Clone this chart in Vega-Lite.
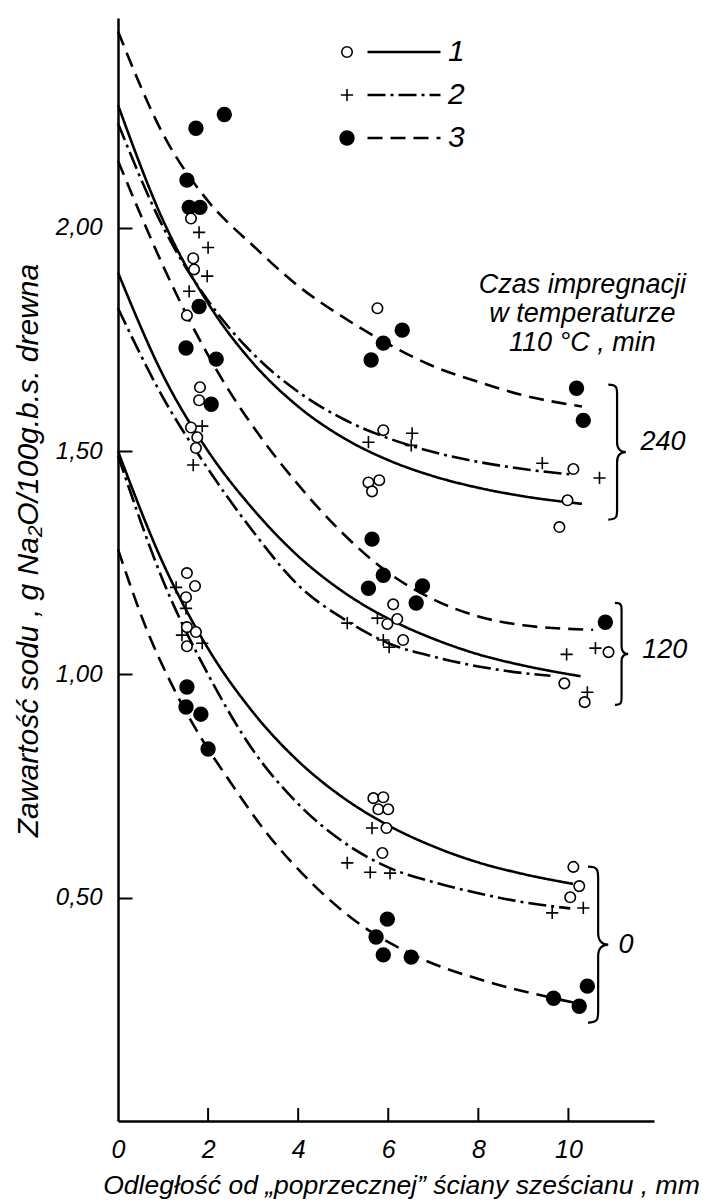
{
  "$schema": "https://vega.github.io/schema/vega-lite/v6.json",
  "width": 536,
  "height": 1103,
  "autosize": {"type": "none"},
  "padding": {"left": 118, "top": 18, "right": 49, "bottom": 83},
  "background": "white",
  "config": {"view": {"stroke": null}, "font": "Liberation Sans"},
  "datasets": {
    "krzywe": [
      {"grupa": "240", "krzywa": "3", "x": 0, "y": 2.44},
      {"grupa": "240", "krzywa": "3", "x": 1, "y": 2.21},
      {"grupa": "240", "krzywa": "3", "x": 2, "y": 2.06},
      {"grupa": "240", "krzywa": "3", "x": 3, "y": 1.96},
      {"grupa": "240", "krzywa": "3", "x": 4, "y": 1.87},
      {"grupa": "240", "krzywa": "3", "x": 5, "y": 1.8},
      {"grupa": "240", "krzywa": "3", "x": 6, "y": 1.74},
      {"grupa": "240", "krzywa": "3", "x": 7, "y": 1.69},
      {"grupa": "240", "krzywa": "3", "x": 8, "y": 1.655},
      {"grupa": "240", "krzywa": "3", "x": 9, "y": 1.625},
      {"grupa": "240", "krzywa": "3", "x": 10.3, "y": 1.6},
      {"grupa": "240", "krzywa": "1", "x": 0, "y": 2.275},
      {"grupa": "240", "krzywa": "1", "x": 1, "y": 2.017},
      {"grupa": "240", "krzywa": "1", "x": 2, "y": 1.831},
      {"grupa": "240", "krzywa": "1", "x": 3, "y": 1.697},
      {"grupa": "240", "krzywa": "1", "x": 4, "y": 1.6},
      {"grupa": "240", "krzywa": "1", "x": 5, "y": 1.53},
      {"grupa": "240", "krzywa": "1", "x": 6, "y": 1.48},
      {"grupa": "240", "krzywa": "1", "x": 7, "y": 1.444},
      {"grupa": "240", "krzywa": "1", "x": 8, "y": 1.418},
      {"grupa": "240", "krzywa": "1", "x": 9, "y": 1.399},
      {"grupa": "240", "krzywa": "1", "x": 10.3, "y": 1.382},
      {"grupa": "240", "krzywa": "2", "x": 0, "y": 2.234},
      {"grupa": "240", "krzywa": "2", "x": 1, "y": 2.002},
      {"grupa": "240", "krzywa": "2", "x": 2, "y": 1.837},
      {"grupa": "240", "krzywa": "2", "x": 3, "y": 1.718},
      {"grupa": "240", "krzywa": "2", "x": 4, "y": 1.633},
      {"grupa": "240", "krzywa": "2", "x": 5, "y": 1.572},
      {"grupa": "240", "krzywa": "2", "x": 6, "y": 1.529},
      {"grupa": "240", "krzywa": "2", "x": 7, "y": 1.498},
      {"grupa": "240", "krzywa": "2", "x": 8, "y": 1.476},
      {"grupa": "240", "krzywa": "2", "x": 9, "y": 1.46},
      {"grupa": "240", "krzywa": "2", "x": 10.05, "y": 1.448},
      {"grupa": "120", "krzywa": "3", "x": 0, "y": 2.15},
      {"grupa": "120", "krzywa": "3", "x": 0.5, "y": 2.03},
      {"grupa": "120", "krzywa": "3", "x": 1, "y": 1.915},
      {"grupa": "120", "krzywa": "3", "x": 1.5, "y": 1.81},
      {"grupa": "120", "krzywa": "3", "x": 2, "y": 1.715},
      {"grupa": "120", "krzywa": "3", "x": 2.5, "y": 1.63},
      {"grupa": "120", "krzywa": "3", "x": 3, "y": 1.555},
      {"grupa": "120", "krzywa": "3", "x": 4, "y": 1.425},
      {"grupa": "120", "krzywa": "3", "x": 5, "y": 1.315},
      {"grupa": "120", "krzywa": "3", "x": 6, "y": 1.228},
      {"grupa": "120", "krzywa": "3", "x": 7, "y": 1.168},
      {"grupa": "120", "krzywa": "3", "x": 8, "y": 1.13},
      {"grupa": "120", "krzywa": "3", "x": 9, "y": 1.11},
      {"grupa": "120", "krzywa": "3", "x": 10.55, "y": 1.1},
      {"grupa": "120", "krzywa": "1", "x": 0, "y": 1.9},
      {"grupa": "120", "krzywa": "1", "x": 1, "y": 1.67},
      {"grupa": "120", "krzywa": "1", "x": 2, "y": 1.5},
      {"grupa": "120", "krzywa": "1", "x": 3, "y": 1.37},
      {"grupa": "120", "krzywa": "1", "x": 4, "y": 1.265},
      {"grupa": "120", "krzywa": "1", "x": 5, "y": 1.185},
      {"grupa": "120", "krzywa": "1", "x": 6, "y": 1.125},
      {"grupa": "120", "krzywa": "1", "x": 7, "y": 1.08},
      {"grupa": "120", "krzywa": "1", "x": 8, "y": 1.045},
      {"grupa": "120", "krzywa": "1", "x": 9, "y": 1.02},
      {"grupa": "120", "krzywa": "1", "x": 10.27, "y": 0.996},
      {"grupa": "120", "krzywa": "2", "x": 0, "y": 1.82},
      {"grupa": "120", "krzywa": "2", "x": 1, "y": 1.62},
      {"grupa": "120", "krzywa": "2", "x": 2, "y": 1.46},
      {"grupa": "120", "krzywa": "2", "x": 3, "y": 1.32},
      {"grupa": "120", "krzywa": "2", "x": 4, "y": 1.2},
      {"grupa": "120", "krzywa": "2", "x": 5, "y": 1.125},
      {"grupa": "120", "krzywa": "2", "x": 6, "y": 1.07},
      {"grupa": "120", "krzywa": "2", "x": 7, "y": 1.04},
      {"grupa": "120", "krzywa": "2", "x": 8, "y": 1.018},
      {"grupa": "120", "krzywa": "2", "x": 9, "y": 1.003},
      {"grupa": "120", "krzywa": "2", "x": 9.6, "y": 0.997},
      {"grupa": "0", "krzywa": "1", "x": 0, "y": 1.5},
      {"grupa": "0", "krzywa": "1", "x": 1, "y": 1.249},
      {"grupa": "0", "krzywa": "1", "x": 2, "y": 1.058},
      {"grupa": "0", "krzywa": "1", "x": 3, "y": 0.915},
      {"grupa": "0", "krzywa": "1", "x": 4, "y": 0.806},
      {"grupa": "0", "krzywa": "1", "x": 5, "y": 0.724},
      {"grupa": "0", "krzywa": "1", "x": 6, "y": 0.662},
      {"grupa": "0", "krzywa": "1", "x": 7, "y": 0.615},
      {"grupa": "0", "krzywa": "1", "x": 8, "y": 0.579},
      {"grupa": "0", "krzywa": "1", "x": 9, "y": 0.553},
      {"grupa": "0", "krzywa": "1", "x": 10.1, "y": 0.531},
      {"grupa": "0", "krzywa": "2", "x": 0, "y": 1.49},
      {"grupa": "0", "krzywa": "2", "x": 1, "y": 1.21},
      {"grupa": "0", "krzywa": "2", "x": 2, "y": 1.0},
      {"grupa": "0", "krzywa": "2", "x": 3, "y": 0.83},
      {"grupa": "0", "krzywa": "2", "x": 4, "y": 0.71},
      {"grupa": "0", "krzywa": "2", "x": 5, "y": 0.625},
      {"grupa": "0", "krzywa": "2", "x": 6, "y": 0.568},
      {"grupa": "0", "krzywa": "2", "x": 7, "y": 0.535},
      {"grupa": "0", "krzywa": "2", "x": 8, "y": 0.51},
      {"grupa": "0", "krzywa": "2", "x": 9, "y": 0.49},
      {"grupa": "0", "krzywa": "2", "x": 10.04, "y": 0.476},
      {"grupa": "0", "krzywa": "3", "x": 0, "y": 1.28},
      {"grupa": "0", "krzywa": "3", "x": 0.64, "y": 1.1},
      {"grupa": "0", "krzywa": "3", "x": 1.22, "y": 0.972},
      {"grupa": "0", "krzywa": "3", "x": 1.82, "y": 0.862},
      {"grupa": "0", "krzywa": "3", "x": 2.42, "y": 0.77},
      {"grupa": "0", "krzywa": "3", "x": 3.3, "y": 0.645},
      {"grupa": "0", "krzywa": "3", "x": 4.33, "y": 0.53},
      {"grupa": "0", "krzywa": "3", "x": 5.38, "y": 0.44},
      {"grupa": "0", "krzywa": "3", "x": 6.49, "y": 0.375},
      {"grupa": "0", "krzywa": "3", "x": 8.27, "y": 0.31},
      {"grupa": "0", "krzywa": "3", "x": 9.67, "y": 0.275},
      {"grupa": "0", "krzywa": "3", "x": 10.27, "y": 0.262}
    ],
    "punkty": [
      {"typ": "3", "x": 1.73, "y": 2.223}, {"typ": "3", "x": 2.36, "y": 2.254},
      {"typ": "3", "x": 1.53, "y": 2.107}, {"typ": "3", "x": 1.58, "y": 2.046},
      {"typ": "3", "x": 1.82, "y": 2.046}, {"typ": "3", "x": 1.8, "y": 1.824},
      {"typ": "3", "x": 1.51, "y": 1.731}, {"typ": "3", "x": 2.18, "y": 1.706},
      {"typ": "3", "x": 2.07, "y": 1.605},
      {"typ": "3", "x": 5.62, "y": 1.704}, {"typ": "3", "x": 5.89, "y": 1.742},
      {"typ": "3", "x": 6.31, "y": 1.771}, {"typ": "3", "x": 10.18, "y": 1.641},
      {"typ": "3", "x": 10.33, "y": 1.569},
      {"typ": "3", "x": 5.64, "y": 1.303}, {"typ": "3", "x": 5.89, "y": 1.222},
      {"typ": "3", "x": 5.56, "y": 1.193}, {"typ": "3", "x": 6.76, "y": 1.198},
      {"typ": "3", "x": 6.62, "y": 1.16}, {"typ": "3", "x": 10.82, "y": 1.117},
      {"typ": "3", "x": 1.53, "y": 0.972}, {"typ": "3", "x": 1.51, "y": 0.927},
      {"typ": "3", "x": 1.84, "y": 0.911}, {"typ": "3", "x": 2.0, "y": 0.833},
      {"typ": "3", "x": 5.98, "y": 0.452}, {"typ": "3", "x": 5.73, "y": 0.412},
      {"typ": "3", "x": 5.89, "y": 0.372}, {"typ": "3", "x": 6.51, "y": 0.367},
      {"typ": "3", "x": 10.42, "y": 0.302}, {"typ": "3", "x": 9.67, "y": 0.275},
      {"typ": "3", "x": 10.24, "y": 0.257},
      {"typ": "1", "x": 1.62, "y": 2.021}, {"typ": "1", "x": 1.67, "y": 1.932},
      {"typ": "1", "x": 1.69, "y": 1.907}, {"typ": "1", "x": 1.53, "y": 1.804},
      {"typ": "1", "x": 1.82, "y": 1.643}, {"typ": "1", "x": 1.8, "y": 1.614},
      {"typ": "1", "x": 1.62, "y": 1.553}, {"typ": "1", "x": 1.76, "y": 1.531},
      {"typ": "1", "x": 1.73, "y": 1.507},
      {"typ": "1", "x": 5.76, "y": 1.82}, {"typ": "1", "x": 5.89, "y": 1.547},
      {"typ": "1", "x": 5.56, "y": 1.43}, {"typ": "1", "x": 5.8, "y": 1.435},
      {"typ": "1", "x": 5.64, "y": 1.41}, {"typ": "1", "x": 10.11, "y": 1.46},
      {"typ": "1", "x": 9.98, "y": 1.39}, {"typ": "1", "x": 9.8, "y": 1.33},
      {"typ": "1", "x": 6.11, "y": 1.157}, {"typ": "1", "x": 6.2, "y": 1.124},
      {"typ": "1", "x": 5.98, "y": 1.113}, {"typ": "1", "x": 6.33, "y": 1.077},
      {"typ": "1", "x": 10.89, "y": 1.05}, {"typ": "1", "x": 9.91, "y": 0.98},
      {"typ": "1", "x": 10.36, "y": 0.938},
      {"typ": "1", "x": 1.53, "y": 1.227}, {"typ": "1", "x": 1.71, "y": 1.198},
      {"typ": "1", "x": 1.51, "y": 1.173}, {"typ": "1", "x": 1.53, "y": 1.106},
      {"typ": "1", "x": 1.73, "y": 1.095}, {"typ": "1", "x": 1.53, "y": 1.063},
      {"typ": "1", "x": 5.67, "y": 0.723}, {"typ": "1", "x": 5.89, "y": 0.725},
      {"typ": "1", "x": 5.78, "y": 0.698}, {"typ": "1", "x": 6.0, "y": 0.698},
      {"typ": "1", "x": 5.96, "y": 0.656}, {"typ": "1", "x": 5.87, "y": 0.6},
      {"typ": "1", "x": 10.11, "y": 0.569}, {"typ": "1", "x": 10.24, "y": 0.526},
      {"typ": "1", "x": 10.04, "y": 0.501},
      {"typ": "2", "x": 1.8, "y": 1.99}, {"typ": "2", "x": 2.0, "y": 1.956},
      {"typ": "2", "x": 1.98, "y": 1.892}, {"typ": "2", "x": 1.58, "y": 1.858},
      {"typ": "2", "x": 1.87, "y": 1.556}, {"typ": "2", "x": 1.67, "y": 1.469},
      {"typ": "2", "x": 5.56, "y": 1.52}, {"typ": "2", "x": 6.53, "y": 1.54},
      {"typ": "2", "x": 6.51, "y": 1.513}, {"typ": "2", "x": 9.42, "y": 1.473},
      {"typ": "2", "x": 10.69, "y": 1.44},
      {"typ": "2", "x": 5.76, "y": 1.126}, {"typ": "2", "x": 5.09, "y": 1.115},
      {"typ": "2", "x": 5.89, "y": 1.077}, {"typ": "2", "x": 6.02, "y": 1.061},
      {"typ": "2", "x": 9.96, "y": 1.045}, {"typ": "2", "x": 10.6, "y": 1.059},
      {"typ": "2", "x": 10.42, "y": 0.96},
      {"typ": "2", "x": 1.29, "y": 1.195}, {"typ": "2", "x": 1.51, "y": 1.148},
      {"typ": "2", "x": 1.42, "y": 1.088}, {"typ": "2", "x": 1.87, "y": 1.07},
      {"typ": "2", "x": 5.64, "y": 0.656}, {"typ": "2", "x": 5.09, "y": 0.578},
      {"typ": "2", "x": 5.6, "y": 0.557}, {"typ": "2", "x": 6.04, "y": 0.555},
      {"typ": "2", "x": 10.33, "y": 0.477}, {"typ": "2", "x": 9.64, "y": 0.466}
    ],
    "podzialka": [
      {"x": 2}, {"x": 4}, {"x": 6}, {"x": 8}, {"x": 10}
    ]
  },
  "layer": [
    {
      "data": {"name": "krzywe"},
      "mark": {"type": "line", "interpolate": "monotone", "stroke": "black", "strokeWidth": 2.6},
      "encoding": {
        "x": {
          "field": "x", "type": "quantitative",
          "scale": {"domain": [0, 11.9], "nice": false, "zero": false},
          "axis": {
            "values": [0, 2, 4, 6, 8, 10],
            "title": "Odległość od „poprzecznej” ściany sześcianu , mm",
            "ticks": false, "tickSize": 0,
            "grid": false,
            "domainColor": "black", "domainWidth": 2.5,
            "labelFontSize": 25, "labelFontStyle": "italic",
            "labelColor": "black", "labelPadding": 16, "labelFlush": false,
            "titleFontSize": 26.5, "titleFontStyle": "italic",
            "titleFontWeight": "normal", "titleColor": "black",
            "titleX": 283, "titleY": 64, "titleBaseline": "middle", "titleAlign": "center"
          }
        },
        "y": {
          "field": "y", "type": "quantitative",
          "scale": {"domain": [0, 2.47], "nice": false, "zero": false},
          "axis": {
            "values": [0.5, 1, 1.5, 2],
            "labelExpr": "replace(format(datum.value, '.2f'), '.', ',')",
            "title": "Zawartość sodu , g Na₂O/100g.b.s. drewna",
            "ticks": false, "tickSize": 0,
            "grid": true, "gridColor": "black", "gridWidth": 2, "gridDash": [14, 3000], "gridOpacity": 1,
            "domainColor": "black", "domainWidth": 2.5,
            "labelFontSize": 24, "labelFontStyle": "italic",
            "labelColor": "black", "labelPadding": 16, "labelFlush": false,
            "titleFontSize": 30, "titleFontStyle": "italic",
            "titleFontWeight": "normal", "titleColor": "black",
            "titleX": -90, "titleY": 532, "titleBaseline": "middle", "titleAlign": "center"
          }
        },
        "detail": {"field": "grupa", "type": "nominal"},
        "strokeDash": {
          "field": "krzywa", "type": "nominal",
          "scale": {"range": [[1, 0], [18, 5, 3, 5], [15, 8]]},
          "legend": {
            "title": null, "orient": "none", "legendX": 248, "legendY": 24, "padding": 0,
            "symbolType": "stroke", "symbolSize": 5329, "symbolStrokeWidth": 2.5, "symbolStrokeColor": "black",
            "clipHeight": 20, "rowPadding": 13,
            "labelFontSize": 30, "labelFontStyle": "italic",
            "labelColor": "black", "labelOffset": 6
          }
        }
      }
    },
    {
      "data": {"name": "podzialka"},
      "mark": {"type": "rule", "stroke": "black", "strokeWidth": 2},
      "encoding": {
        "x": {"field": "x", "type": "quantitative"},
        "y": {"datum": 0, "type": "quantitative"},
        "y2": {"datum": 0.029}
      }
    },
    {
      "data": {"name": "punkty"},
      "mark": {"type": "point", "filled": true, "strokeWidth": 1.6, "opacity": 1},
      "encoding": {
        "x": {"field": "x", "type": "quantitative"},
        "y": {"field": "y", "type": "quantitative"},
        "shape": {
          "field": "typ", "type": "nominal",
          "scale": {"domain": ["1", "2", "3"], "range": ["circle", "M-1,0H1M0,-1V1", "circle"]},
          "legend": {
            "title": null, "orient": "none", "legendX": 214, "legendY": 24, "padding": 0,
            "clipHeight": 20, "rowPadding": 13, "labelFontSize": 30, "labelColor": "transparent",
            "symbolStrokeWidth": 1.6
          }
        },
        "fill": {
          "field": "typ", "type": "nominal",
          "scale": {"domain": ["1", "2", "3"], "range": ["white", "white", "black"]},
          "legend": {
            "title": null, "orient": "none", "legendX": 214, "legendY": 24, "padding": 0,
            "clipHeight": 20, "rowPadding": 13, "labelFontSize": 30, "labelColor": "transparent",
            "symbolStrokeWidth": 1.6
          }
        },
        "stroke": {
          "field": "typ", "type": "nominal",
          "scale": {"domain": ["1", "2", "3"], "range": ["black", "black", "black"]},
          "legend": {
            "title": null, "orient": "none", "legendX": 214, "legendY": 24, "padding": 0,
            "clipHeight": 20, "rowPadding": 13, "labelFontSize": 30, "labelColor": "transparent",
            "symbolStrokeWidth": 1.6
          }
        },
        "size": {
          "field": "typ", "type": "nominal",
          "scale": {"domain": ["1", "2", "3"], "range": [110, 190, 150]},
          "legend": {
            "title": null, "orient": "none", "legendX": 214, "legendY": 24, "padding": 0,
            "clipHeight": 20, "rowPadding": 13, "labelFontSize": 30, "labelColor": "transparent",
            "symbolStrokeWidth": 1.6
          }
        }
      }
    },
    {
      "data": {"values": [{}]},
      "mark": {
        "type": "text", "lineBreak": "\n", "lineHeight": 29, "align": "center", "baseline": "middle",
        "fontSize": 27, "fontStyle": "italic", "color": "black"
      },
      "encoding": {
        "x": {"datum": 10.31, "type": "quantitative"},
        "y": {"datum": 1.872, "type": "quantitative"},
        "text": {"value": "Czas impregnacji\nw temperaturze\n110 °C , min"}
      }
    },
    {
      "data": {"values": [{}]},
      "mark": {"type": "point", "shape": "M-0.13,-1C0,-1 0,-0.95 0,-0.85L0,-0.15C0,-0.05 0.05,0 0.13,0C0.05,0 0,0.05 0,0.15L0,0.85C0,0.95 0,1 -0.13,1", "size": 18225, "filled": false, "stroke": "black", "strokeWidth": 2.2, "opacity": 1},
      "encoding": {
        "x": {"datum": 11.08, "type": "quantitative"},
        "y": {"datum": 1.498, "type": "quantitative"}
      }
    },
    {
      "data": {"values": [{}]},
      "mark": {"type": "point", "shape": "M-0.13,-1C0,-1 0,-0.95 0,-0.85L0,-0.15C0,-0.05 0.05,0 0.13,0C0.05,0 0,0.05 0,0.15L0,0.85C0,0.95 0,1 -0.13,1", "size": 10404, "filled": false, "stroke": "black", "strokeWidth": 2.2, "opacity": 1},
      "encoding": {
        "x": {"datum": 11.18, "type": "quantitative"},
        "y": {"datum": 1.046, "type": "quantitative"}
      }
    },
    {
      "data": {"values": [{}]},
      "mark": {"type": "point", "shape": "M-0.13,-1C0,-1 0,-0.95 0,-0.85L0,-0.15C0,-0.05 0.05,0 0.13,0C0.05,0 0,0.05 0,0.15L0,0.85C0,0.95 0,1 -0.13,1", "size": 24336, "filled": false, "stroke": "black", "strokeWidth": 2.2, "opacity": 1},
      "encoding": {
        "x": {"datum": 10.66, "type": "quantitative"},
        "y": {"datum": 0.395, "type": "quantitative"}
      }
    },
    {
      "data": {"values": [{}]},
      "mark": {"type": "text", "align": "left", "baseline": "middle", "fontSize": 27, "fontStyle": "italic", "color": "black"},
      "encoding": {
        "x": {"datum": 11.6, "type": "quantitative"},
        "y": {"datum": 1.521, "type": "quantitative"},
        "text": {"value": "240"}
      }
    },
    {
      "data": {"values": [{}]},
      "mark": {"type": "text", "align": "left", "baseline": "middle", "fontSize": 27, "fontStyle": "italic", "color": "black"},
      "encoding": {
        "x": {"datum": 11.64, "type": "quantitative"},
        "y": {"datum": 1.055, "type": "quantitative"},
        "text": {"value": "120"}
      }
    },
    {
      "data": {"values": [{}]},
      "mark": {"type": "text", "align": "left", "baseline": "middle", "fontSize": 27, "fontStyle": "italic", "color": "black"},
      "encoding": {
        "x": {"datum": 11.11, "type": "quantitative"},
        "y": {"datum": 0.395, "type": "quantitative"},
        "text": {"value": "0"}
      }
    }
  ]
}
